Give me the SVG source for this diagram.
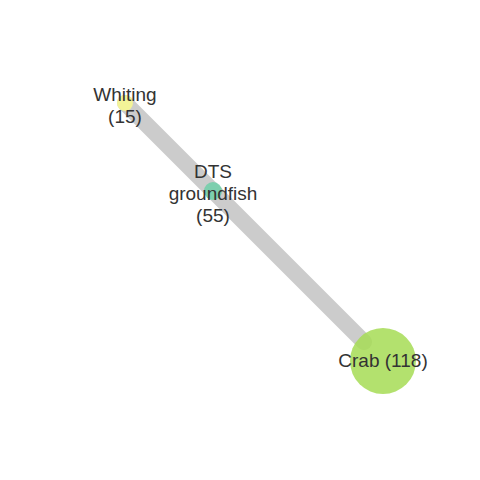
<svg xmlns="http://www.w3.org/2000/svg" width="480" height="480" viewBox="0 0 480 480">
<style>
.edge{stroke:#cccccc;stroke-linecap:round;fill:none}
.node{opacity:0.85}
text{font-family:"Liberation Sans",Arial,sans-serif;font-size:19px;fill:#333333;text-anchor:middle}
</style>
<rect width="480" height="480" fill="#ffffff"/>
<g id="connectors">
<line class="edge" x1="125" y1="103" x2="364" y2="342" stroke-width="16"/>
</g>
<g id="node-whiting">
<circle class="node" cx="125" cy="103" r="8" fill="#f9f98e"/>
<text x="125" y="101">Whiting</text>
<text x="125" y="123">(15)</text>
</g>
<g id="node-dts">
<circle class="node" cx="213" cy="191" r="9" fill="#6fcfa8"/>
<text x="213" y="178">DTS</text>
<text x="213" y="200">groundfish</text>
<text x="213" y="222">(55)</text>
</g>
<g id="node-crab">
<circle class="node" cx="383" cy="361" r="33" fill="#a6dc55"/>
<text x="383" y="367">Crab (118)</text>
</g>
</svg>
